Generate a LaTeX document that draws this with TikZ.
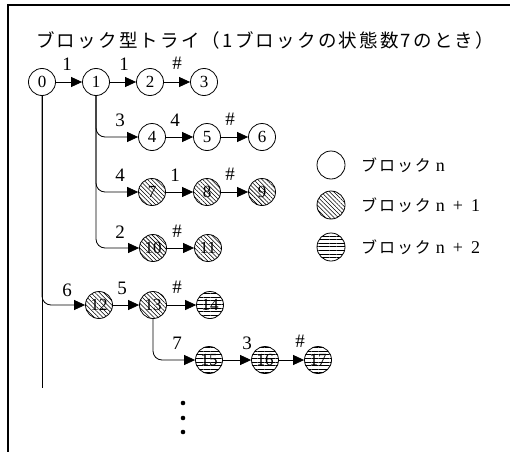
\documentclass[tikz,border=0pt]{standalone}
\usepackage{fontspec}
\setmainfont{Liberation Serif}
\usetikzlibrary{arrows.meta,patterns.meta}
\newfontfamily\jpfont{Noto Sans CJK JP}[LetterSpace=12]
\tikzset{
  st/.style={circle, draw, line width=0.8pt, minimum size=27pt, inner sep=0pt, font=\fontsize{17}{17}\selectfont},
  bA/.style={st},
  bB/.style={st, pattern={Lines[angle=-45,distance=3pt,line width=0.55pt]}},
  bC/.style={st, pattern={Lines[angle=0,distance=3.6pt,line width=0.65pt]}},
  edge/.style={draw, line width=0.8pt, -{Triangle[length=11pt,width=10pt]}},
  branch/.style={edge, rounded corners=9pt},
  lbl/.style={font=\fontsize{19}{19}\selectfont, inner sep=0pt},
  legtxt/.style={anchor=west, font=\fontsize{18}{18}\selectfont, inner sep=0pt},
}
\begin{document}
\begin{tikzpicture}[x=1pt,y=-1pt]
\useasboundingbox (0,0) rectangle (510,452);
% frame
\draw[line width=1.3pt] (510,5) -- (8,5) -- (8,452);
% title
\node[anchor=west, inner sep=0pt, font=\jpfont\fontsize{18.5}{18.5}\selectfont] (title) at (36,40) {ブロック型トライ（1ブロックの状態数7のとき）};
% nodes
\node[bA] (n0) at (42,82) {0};
\node[bA] (n1) at (96,82) {1};
\node[bA] (n2) at (150,82) {2};
\node[bA] (n3) at (204,82) {3};
\node[bA] (n4) at (152,137) {4};
\node[bA] (n5) at (207,137) {5};
\node[bA] (n6) at (262,137) {6};
\node[bB] (n7) at (152,192) {7};
\node[bB] (n8) at (207,192) {8};
\node[bB] (n9) at (262,192) {9};
\node[bB] (n10) at (153,248) {10};
\node[bB] (n11) at (208,248) {11};
\node[bB] (n12) at (99,305) {12};
\node[bB] (n13) at (153,305) {13};
\node[bC] (n14) at (210,305) {14};
\node[bC] (n15) at (209,360) {15};
\node[bC] (n16) at (265,360) {16};
\node[bC] (n17) at (318,360) {17};
% edges
\draw[edge] (n0) -- (n1);
\draw[edge] (n1) -- (n2);
\draw[edge] (n2) -- (n3);
\draw[branch] (n1) |- (n4);
\draw[edge] (n4) -- (n5);
\draw[edge] (n5) -- (n6);
\draw[branch] (n1) |- (n7);
\draw[edge] (n7) -- (n8);
\draw[edge] (n8) -- (n9);
\draw[branch] (n1) |- (n10);
\draw[edge] (n10) -- (n11);
\draw[branch] (n0) |- (n12);
\draw[edge] (n12) -- (n13);
\draw[edge] (n13) -- (n14);
\draw[branch] (n13) |- (n15);
\draw[edge] (n15) -- (n16);
\draw[edge] (n16) -- (n17);
\coordinate (tail) at (42,388);
\draw[line width=0.8pt] (n0) -- (tail);
% edge labels
\node[lbl] (a1) at (67,64) {1};
\node[lbl] (a2) at (124,64) {1};
\node[lbl] (a3) at (177,63) {\#};
\node[lbl] (b1) at (120,120) {3};
\node[lbl] (b2) at (175,120) {4};
\node[lbl] (b3) at (230,119) {\#};
\node[lbl] (c1) at (120,175) {4};
\node[lbl] (c2) at (175,175) {1};
\node[lbl] (c3) at (230,174) {\#};
\node[lbl] (d1) at (120,232) {2};
\node[lbl] (d2) at (177,231) {\#};
\node[lbl] (e1) at (67,290) {6};
\node[lbl] (e2) at (122,288) {5};
\node[lbl] (e3) at (177,287) {\#};
\node[lbl] (f1) at (177,343) {7};
\node[lbl] (f2) at (247,343) {3};
\node[lbl] (f3) at (300,341) {\#};
% dots
\fill (183,403) circle (2.3);
\fill (183,418) circle (2.3);
\fill (183,432) circle (2.3);
% legend
\node[bA, minimum size=28pt] (lg1) at (331,165) {};
\node[bB, minimum size=28pt] (lg2) at (331,205) {};
\node[bC, minimum size=28pt] (lg3) at (331,247) {};
\node[legtxt] (lt1) at (361,165) {{\jpfont\fontsize{16}{16}\selectfont ブロック}\hspace{5pt}n};
\node[legtxt] (lt2) at (361,205) {{\jpfont\fontsize{16}{16}\selectfont ブロック}\hspace{5pt}n\hspace{8pt}+\hspace{8pt}1};
\node[legtxt] (lt3) at (361,247) {{\jpfont\fontsize{16}{16}\selectfont ブロック}\hspace{5pt}n\hspace{8pt}+\hspace{8pt}2};
\end{tikzpicture}
\end{document}
